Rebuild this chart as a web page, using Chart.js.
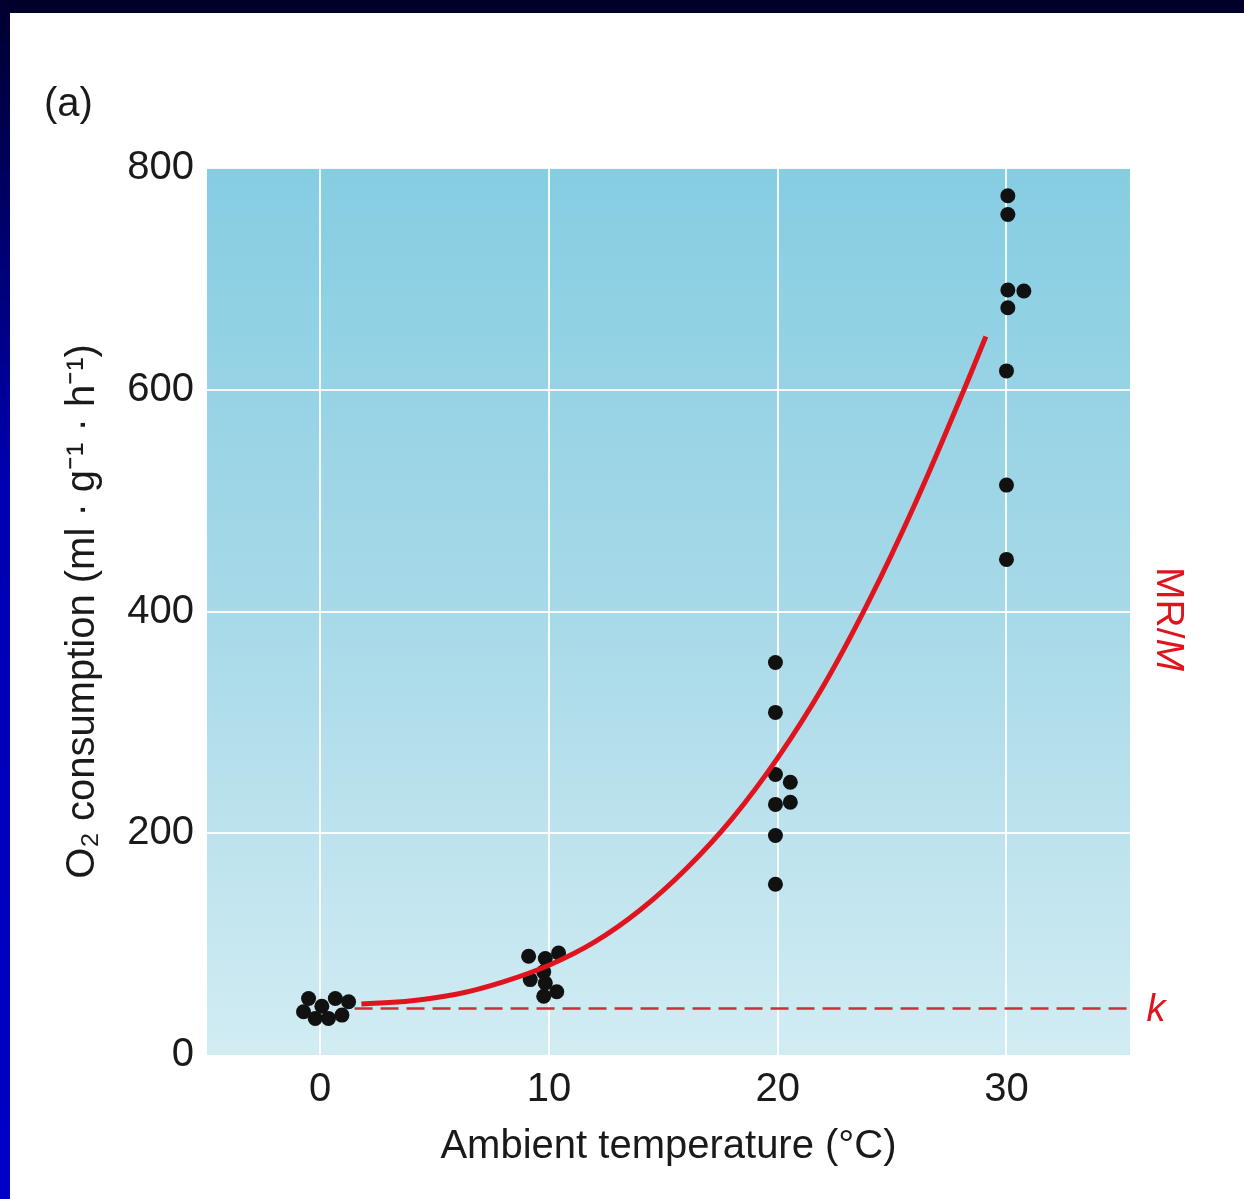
<!DOCTYPE html>
<html>
<head>
<meta charset="utf-8">
<script src="https://cdn.jsdelivr.net/npm/chart.js@4"></script>
<style>
html, body { margin: 0; padding: 0; background: #fff; }
#wrap { position: relative; width: 1244px; height: 1199px; overflow: hidden; }
#topband { position: absolute; left: 0; top: 0; width: 1244px; height: 13px; background: #00002a; }
#sideband { position: absolute; left: 0; top: 0; width: 10px; height: 1199px; background: linear-gradient(#00002e, #0000b0 40%, #0000c8); }
canvas { display: block; background: #fff; }
</style>
</head>
<body>
<div id="wrap">
  <canvas id="myChart" width="1244" height="1199"></canvas>
  <div id="topband"></div>
  <div id="sideband"></div>
</div>
<script>
// values
const xTicks = [0, 10, 20, 30];
const yTicks = [0, 200, 400, 600, 800];

const dotX = [-0.51, -0.73, -0.22, 0.07, 0.36, 0.66, 0.95, 1.24,
              9.11, 9.84, 10.42, 9.77, 9.18, 9.84, 10.34, 9.77,
              19.9, 19.9, 19.9, 20.55, 19.9, 20.55, 19.9, 19.9,
              30.06, 30.06, 30.06, 30.76, 30.06, 30.0, 30.0, 30.0];
const dotY = [51, 39, 33, 44, 33, 51, 36, 48,
              89, 87, 92, 75, 68, 65, 57, 53,
              354, 309, 253, 246, 226, 228, 198, 154,
              775, 758, 690, 689, 674, 617, 514, 447];

// MR/M curve
const curveX = [1.8, 4, 6, 8, 10, 12, 14, 16, 18, 20, 22, 24, 26, 28, 29.1];
const curveY = [46, 49, 55, 66, 81, 102, 131, 168, 213, 268, 333, 410, 497, 593, 648];

// k level (dashed)
const kX = [1.5, 35.4];
const kY = [42, 42];

const FONT = "'Liberation Sans', Arial, Helvetica, sans-serif";
const INK = '#1a1a1a';
const RED = '#e0141e';

const plotBg = {
    id: 'plotBg',
    beforeDraw(chart) {
        const {ctx, chartArea: a} = chart;
        const g = ctx.createLinearGradient(0, a.top, 0, a.bottom);
        g.addColorStop(0, '#86cde2');
        g.addColorStop(0.5, '#a7d9e8');
        g.addColorStop(1, '#d2ecf3');
        ctx.save();
        ctx.fillStyle = g;
        ctx.fillRect(a.left, a.top, a.right - a.left, a.bottom - a.top);
        ctx.restore();
    }
};

const labels = {
    id: 'labels',
    afterDraw(chart) {
        const ctx = chart.ctx;
        ctx.save();
        ctx.fillStyle = INK;
        ctx.font = '40px ' + FONT;
        ctx.textBaseline = 'middle';
        ctx.textAlign = 'left';
        ctx.fillText('(a)', 44, 105);

        ctx.fillStyle = RED;
        ctx.translate(1168, 567);
        ctx.rotate(Math.PI / 2);
        ctx.font = '39px ' + FONT;
        ctx.fillText('MR/', 0, 0);
        const w = ctx.measureText('MR/').width;
        ctx.font = 'italic 39px ' + FONT;
        ctx.fillText('M', w, 0);
        ctx.restore();

        ctx.save();
        ctx.fillStyle = RED;
        ctx.font = 'italic 38px ' + FONT;
        ctx.textAlign = 'center';
        ctx.textBaseline = 'middle';
        ctx.fillText('k', 1156, 1010);
        ctx.restore();
    }
};

const toPts = (xs, ys) => xs.map((x, i) => ({x: x, y: ys[i]}));

let myChart = document.getElementById('myChart').getContext('2d');

let o2Chart = new Chart(myChart, {
    type: 'scatter',
    data: {
        datasets: [{
            type: 'line',
            label: 'MR/M',
            data: toPts(curveX, curveY),
            borderColor: RED,
            borderWidth: 5,
            pointRadius: 0,
            tension: 0.4,
            fill: false
        }, {
            label: 'O2 consumption',
            data: toPts(dotX, dotY),
            backgroundColor: '#111111',
            borderColor: '#111111',
            pointRadius: 7.5,
            borderWidth: 0
        }, {
            type: 'line',
            label: 'k',
            data: toPts(kX, kY),
            borderColor: '#c8303c',
            borderWidth: 2.5,
            borderDash: [18, 8],
            pointRadius: 0,
            fill: false
        }]
    },
    options: {
        responsive: false,
        animation: false,
        devicePixelRatio: 1,
        layout: { padding: { left: 0, right: 114, top: 168, bottom: 0 } },
        plugins: {
            legend: { display: false },
            tooltip: { enabled: false }
        },
        scales: {
            x: {
                type: 'linear',
                min: -4.95,
                max: 35.4,
                afterBuildTicks: s => { s.ticks = xTicks.map(v => ({value: v})); },
                afterFit: s => { s.height = 144; },
                grid: { color: 'rgba(255,255,255,0.9)', lineWidth: 2, drawTicks: false },
                border: { display: false },
                ticks: { color: INK, font: { family: FONT, size: 40 }, padding: 11 },
                title: {
                    display: true,
                    text: 'Ambient temperature (°C)',
                    color: INK,
                    font: { family: FONT, size: 40 },
                    padding: { top: 0, bottom: 28 }
                }
            },
            y: {
                min: 0,
                max: 800,
                afterBuildTicks: s => { s.ticks = yTicks.map(v => ({value: v})); },
                afterFit: s => { s.width = 207; },
                grid: {
                    color: c => (c.tick && c.tick.value === 0) ? 'rgba(0,0,0,0)' : 'rgba(255,255,255,0.9)',
                    lineWidth: 2,
                    drawTicks: false
                },
                border: { display: false },
                ticks: { color: INK, font: { family: FONT, size: 40 }, padding: 13 },
                title: {
                    display: true,
                    text: 'O₂ consumption (ml · g⁻¹ · h⁻¹)',
                    color: INK,
                    font: { family: FONT, size: 40 },
                    padding: { top: 59, bottom: 0 }
                }
            }
        }
    },
    plugins: [plotBg, labels]
});
</script>
</body>
</html>
